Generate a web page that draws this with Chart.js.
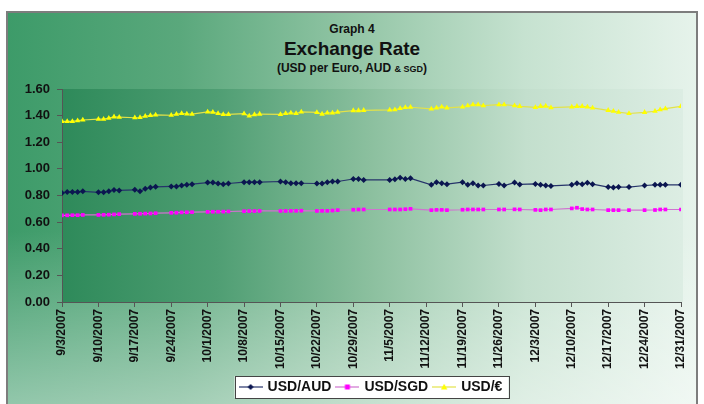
<!DOCTYPE html>
<html><head><meta charset="utf-8">
<script src="https://cdn.jsdelivr.net/npm/chart.js@4.4.0/dist/chart.umd.min.js"></script>
<style>
html,body{margin:0;padding:0;background:#fff;width:704px;height:404px;overflow:hidden;}
#frame{position:absolute;left:6px;top:11px;width:692px;height:400px;box-sizing:border-box;border:2px solid #7d7d7d;
background:linear-gradient(to bottom, rgba(255,255,255,0) 55%, rgba(255,255,255,0.45) 100%),
linear-gradient(to right,#3d9b69 0%,#5aa87c 25%,#92c5a5 50%,#c6e2d0 75%,#e6f3eb 100%);}
.t{position:absolute;left:0;width:704px;text-align:center;font-family:"Liberation Sans",Arial,sans-serif;font-weight:bold;color:#111;white-space:nowrap;line-height:1;}
#wrap{position:absolute;left:0;top:0;width:704px;height:404px;}
</style></head>
<body>
<div id="frame"></div>
<div class="t" style="top:23px;font-size:12px;">Graph 4</div>
<div class="t" style="top:39px;font-size:19px;">Exchange Rate</div>
<div class="t" style="top:62px;font-size:12px;">(USD per Euro, AUD <span style="font-size:9px">&amp; SGD</span>)</div>
<div id="wrap"><canvas id="c" width="704" height="404"></canvas></div>
<script>
// x positions: days since 9/3/2007
const days = [0,1,2,3,4, 7,8,9,10,11, 14,15,16,17,18, 21,22,23,24,25, 28,29,30,31,32,
  35,36,37,38, 42,43,44,45,46, 49,50,51,52,53, 56,57,58, 63,64,65,66,67, 71,72,73,74,
  77,78,79,80,81, 84,85,87,88, 91,92,93,94, 98,99,100,101,102, 105,106,107,109, 112,114,115,116, 119];
const usdAud = [0.819,0.826,0.826,0.826,0.831, 0.824,0.824,0.831,0.841,0.838, 0.843,0.831,0.850,0.860,0.865,
  0.868,0.868,0.875,0.880,0.885, 0.897,0.897,0.890,0.885,0.890,
  0.900,0.900,0.900,0.900, 0.905,0.900,0.892,0.892,0.892, 0.890,0.890,0.900,0.905,0.905, 0.924,0.924,0.917,
  0.917,0.922,0.934,0.924,0.929, 0.880,0.900,0.892,0.885,
  0.900,0.880,0.892,0.875,0.875, 0.887,0.875,0.897,0.883, 0.887,0.880,0.875,0.872,
  0.880,0.892,0.885,0.895,0.885, 0.863,0.860,0.863,0.863, 0.875,0.880,0.880,0.880, 0.880];
const usdSgd = [0.651,0.651,0.652,0.652,0.654, 0.654,0.655,0.656,0.658,0.660, 0.662,0.663,0.664,0.665,0.667,
  0.670,0.671,0.673,0.674,0.675, 0.677,0.678,0.678,0.679,0.680,
  0.682,0.683,0.683,0.684, 0.684,0.684,0.685,0.685,0.686, 0.684,0.685,0.685,0.687,0.690, 0.693,0.695,0.695,
  0.695,0.695,0.695,0.697,0.700, 0.690,0.692,0.692,0.690,
  0.693,0.695,0.695,0.695,0.695, 0.695,0.695,0.696,0.695, 0.692,0.690,0.695,0.695,
  0.703,0.708,0.698,0.695,0.695, 0.690,0.690,0.690,0.690, 0.690,0.691,0.695,0.695, 0.695];
const usdEur = [1.357,1.357,1.357,1.362,1.367, 1.374,1.374,1.381,1.391,1.389, 1.384,1.386,1.396,1.401,1.406,
  1.403,1.411,1.416,1.413,1.411, 1.428,1.426,1.416,1.409,1.409,
  1.415,1.397,1.408,1.412, 1.409,1.416,1.421,1.416,1.428, 1.424,1.412,1.421,1.421,1.426, 1.438,1.438,1.440,
  1.443,1.445,1.454,1.461,1.463, 1.450,1.458,1.465,1.458,
  1.465,1.475,1.482,1.482,1.475, 1.482,1.482,1.475,1.470, 1.462,1.470,1.472,1.460,
  1.465,1.470,1.470,1.465,1.458, 1.440,1.433,1.426,1.416, 1.425,1.433,1.445,1.452, 1.470];
const tickLabels = ['9/3/2007','9/10/2007','9/17/2007','9/24/2007','10/1/2007','10/8/2007','10/15/2007','10/22/2007',
  '10/29/2007','11/5/2007','11/12/2007','11/19/2007','11/26/2007','12/3/2007','12/10/2007','12/17/2007','12/24/2007','12/31/2007'];
const yTicks = [0,0.2,0.4,0.6,0.8,1.0,1.2,1.4,1.6];
const seriesNames = ['USD/AUD','USD/SGD','USD/\u20AC'];

const FONT = '"Liberation Sans", Arial, sans-serif';
Chart.defaults.font.family = FONT;
Chart.defaults.color = '#111';

function pts(vals){ return days.map((d,i)=>({x:d,y:vals[i]})); }

function icon(lineColor, fill, style){
  const c = document.createElement('canvas'); c.width = 24; c.height = 10;
  const g = c.getContext('2d');
  g.strokeStyle = lineColor; g.lineWidth = 1.2;
  g.beginPath(); g.moveTo(0,5); g.lineTo(24,5); g.stroke();
  g.fillStyle = fill; g.beginPath();
  if (style==='rectRot'){ g.moveTo(12,2); g.lineTo(15,5); g.lineTo(12,8); g.lineTo(9,5); g.closePath(); }
  else if (style==='rect'){ g.rect(9.5,2.5,5,5); }
  else { g.moveTo(12,1.8); g.lineTo(15.2,7.5); g.lineTo(8.8,7.5); g.closePath(); }
  g.fill();
  return c;
}

const styles = [
  {line:'#26336a', fill:'#0b1650', ps:'rectRot', r:3},
  {line:'#cf73cf', fill:'#ff00ff', ps:'rect', r:2.6},
  {line:'#e2e24a', fill:'#ffff00', ps:'triangle', r:3.2}
];
const icons = styles.map(s=>icon(s.line, s.fill, s.ps));

const bgPlugin = {
  id:'bg',
  beforeDraw(chart){
    const ctx = chart.ctx, a = chart.chartArea;
    ctx.save();
    const g = ctx.createLinearGradient(a.left,0,a.right,0);
    g.addColorStop(0,'#2e8a5a'); g.addColorStop(0.25,'#4f9e73'); g.addColorStop(0.5,'#8cc09f');
    g.addColorStop(0.75,'#c3dfcd'); g.addColorStop(1,'#dcede3');
    ctx.fillStyle = g;
    ctx.fillRect(a.left, a.top, a.right-a.left+2, a.bottom-a.top);
    const hb = chart.legend && chart.legend.legendHitBoxes;
    if (hb && hb.length){
      const l = hb[0].left-6, r = hb[hb.length-1].left+hb[hb.length-1].width+6;
      const t = hb[0].top-4, b = hb[0].top+hb[0].height+4;
      ctx.fillStyle='#ffffff'; ctx.fillRect(l,t,r-l,b-t);
      ctx.strokeStyle='#444'; ctx.lineWidth=1; ctx.strokeRect(Math.round(l)+0.5,Math.round(t)+0.5,Math.round(r-l),Math.round(b-t));
    }
    ctx.restore();
  }
};

const datasets = [usdAud, usdSgd, usdEur].map((vals,i)=>({
  label: seriesNames[i],
  data: pts(vals),
  borderColor: styles[i].line,
  borderWidth: 1.2,
  backgroundColor: styles[i].fill,
  pointBackgroundColor: styles[i].fill,
  pointBorderColor: styles[i].fill,
  pointBorderWidth: 0,
  pointStyle: styles[i].ps,
  pointRadius: styles[i].r,
  tension: 0,
  fill: false
}));

new Chart(document.getElementById('c'), {
  type:'line',
  data:{datasets},
  plugins:[bgPlugin],
  options:{
    responsive:false,
    animation:false,
    layout:{padding:{left:0,right:23,top:89,bottom:0}},
    plugins:{
      title:{display:false},
      tooltip:{enabled:false},
      legend:{
        position:'bottom',
        fullSize:false,
        labels:{
          usePointStyle:true,
          pointStyleWidth:20,
          padding:6,
          color:'#111',
          font:{size:14,weight:'bold',family:FONT},
          generateLabels:(chart)=>chart.data.datasets.map((ds,i)=>({
            text: ds.label, pointStyle: icons[i], fillStyle:'transparent', strokeStyle:'transparent',
            lineWidth:0, hidden:false, datasetIndex:i, fontColor:'#111'
          }))
        }
      }
    },
    scales:{
      x:{
        type:'linear', min:0, max:119,
        afterFit:(s)=>{ s.height = 72; },
        afterBuildTicks:(s)=>{ s.ticks = tickLabels.map((_,i)=>({value:i*7})); },
        grid:{drawOnChartArea:false, drawTicks:true, tickLength:5, color:'#555'},
        border:{display:true, color:'#555', width:1},
        ticks:{autoSkip:false, minRotation:90, maxRotation:90, padding:2,
          font:{size:12,weight:'bold',family:FONT}, color:'#111',
          callback:(v)=>tickLabels[Math.round(v/7)] || ''}
      },
      y:{
        min:0, max:1.6,
        afterFit:(s)=>{ s.width = 62; },
        afterBuildTicks:(s)=>{ s.ticks = yTicks.map(v=>({value:v})); },
        grid:{drawOnChartArea:false, drawTicks:true, tickLength:5, color:'#555'},
        border:{display:true, color:'#555', width:1},
        ticks:{padding:7, font:{size:13,weight:'bold',family:FONT}, color:'#111',
          callback:(v)=>Number(v).toFixed(2)}
      }
    }
  }
});
</script>
</body></html>
